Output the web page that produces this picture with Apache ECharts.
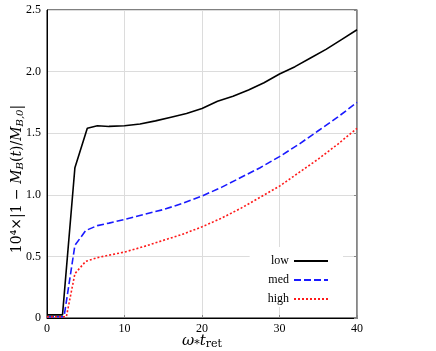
<!DOCTYPE html>
<html>
<head>
<meta charset="utf-8">
<script src="https://cdn.jsdelivr.net/npm/echarts@6/dist/echarts.min.js"></script>
<style>
  html, body { margin: 0; padding: 0; background: #fff; }
  #chart { width: 436px; height: 351px; }
</style>
</head>
<body>
<div id="chart"></div>
<script>
// time axis (omega_* t_ret) and |1 - M_B(t)/M_B,0| x 1e4
const tLow = [0, 2.0, 3.6, 5.2, 6.5, 8, 10, 12, 14, 16, 18, 20, 22, 24, 26, 28, 30, 32, 34, 36, 38, 40];
const low  = [0.025, 0.025, 1.22, 1.54, 1.56, 1.555, 1.56, 1.575, 1.60, 1.63, 1.66, 1.70, 1.76, 1.80, 1.85, 1.91, 1.98, 2.04, 2.11, 2.18, 2.26, 2.34];

const tMed = [0, 2.2, 3.6, 5.0, 6.5, 8, 10, 12.5, 15, 17.5, 20, 22.5, 25, 27.5, 30, 32.5, 35, 37.5, 40];
const med  = [0.01, 0.01, 0.59, 0.71, 0.75, 0.77, 0.80, 0.84, 0.88, 0.93, 0.99, 1.06, 1.14, 1.22, 1.31, 1.41, 1.52, 1.63, 1.75];

const tHigh = [0, 2.5, 3.6, 5.0, 6.5, 8, 10, 12.5, 15, 17.5, 20, 22.5, 25, 27.5, 30, 32.5, 35, 37.5, 40];
const high  = [0.01, 0.01, 0.36, 0.46, 0.49, 0.51, 0.535, 0.58, 0.63, 0.68, 0.74, 0.81, 0.89, 0.98, 1.07, 1.18, 1.29, 1.41, 1.54];

const xTicks = [0, 10, 20, 30, 40];
const yTicks = [0, 0.5, 1.0, 1.5, 2.0, 2.5];

const pairs = (xs, ys) => xs.map((x, i) => [x, ys[i]]);
const serif = 'DejaVu Serif';

const chart = echarts.init(document.getElementById('chart'));
chart.setOption({
  animation: false,
  textStyle: { fontFamily: serif },
  grid: {
    left: 47, right: 79, top: 10, bottom: 33,
    outerBoundsMode: 'none', containLabel: false,
    show: true, borderColor: '#000', borderWidth: 1
  },
  legend: {
    right: 93, bottom: 44,
    orient: 'vertical',
    align: 'right',
    itemWidth: 34, itemHeight: 10, itemGap: 7,
    backgroundColor: '#fff',
    padding: [8, 14, 2, 18],
    itemStyle: { opacity: 0 },
    textStyle: { fontFamily: 'Liberation Serif', fontSize: 12, color: '#000' },
    data: ['low', 'med', 'high']
  },
  xAxis: {
    type: 'value', min: 0, max: 40, interval: 10,
    name: '{i|ω}{s|*}{i|t}{s|ret}',
    nameLocation: 'middle', nameGap: 14, nameMoveOverlap: false,
    nameTextStyle: {
      rich: {
        i: { fontFamily: serif, fontStyle: 'italic', fontSize: 15, color: '#000' },
        s: { fontFamily: serif, fontSize: 11, color: '#000', verticalAlign: 'bottom', padding: [7, 0, 0, 0] }
      }
    },
    axisLine: { lineStyle: { color: '#000' } },
    axisTick: { inside: true, length: 3, lineStyle: { color: '#888' } },
    axisLabel: { color: '#000', fontSize: 12, margin: 5, fontFamily: 'Liberation Serif',
      formatter: v => xTicks.includes(v) ? String(v) : '' },
    splitLine: { show: true, lineStyle: { color: '#dcdcdc' } }
  },
  yAxis: [{
    type: 'value', min: 0, max: 2.5, interval: 0.5,
    name: '{n|10⁴×|1 − }{i|M}{s|B}{n|(}{i|t}{n|)/}{i|M}{s|B,0}{n||}',
    nameLocation: 'middle', nameGap: 22, nameRotate: 90, nameMoveOverlap: false,
    nameTextStyle: {
      padding: [0, 30, 0, 0],
      rich: {
        n: { fontFamily: serif, fontSize: 14, color: '#000' },
        i: { fontFamily: serif, fontStyle: 'italic', fontSize: 14, color: '#000' },
        s: { fontFamily: serif, fontStyle: 'italic', fontSize: 10, color: '#000', verticalAlign: 'bottom', padding: [6, 0, 0, 0] }
      }
    },
    axisLine: { show: true, lineStyle: { color: '#000' } },
    axisTick: { show: false },
    axisLabel: { color: '#000', fontSize: 12, margin: 6, fontFamily: 'Liberation Serif',
      formatter: v => yTicks.includes(v) ? (v === 0 ? '0' : v.toFixed(1)) : '' },
    splitLine: { show: true, lineStyle: { color: '#dcdcdc' } }
  }, {
    type: 'value', min: 0, max: 2.5, interval: 0.5, position: 'right',
    axisLine: { show: true, lineStyle: { color: '#888', width: 1.5 } },
    axisTick: { show: true, inside: true, length: 3, lineStyle: { color: '#888' } },
    axisLabel: { show: false },
    splitLine: { show: false }
  }],
  series: [
    { name: 'low', type: 'line', symbol: 'none', data: pairs(tLow, low),
      lineStyle: { color: '#000', width: 1.6 }, itemStyle: { color: '#000' } },
    { name: 'med', type: 'line', symbol: 'none', data: pairs(tMed, med),
      lineStyle: { color: '#1a1aff', width: 1.6, type: [7, 3] }, itemStyle: { color: '#1a1aff' } },
    { name: 'high', type: 'line', symbol: 'none', data: pairs(tHigh, high),
      lineStyle: { color: '#ff1a1a', width: 1.6, type: [2, 2] }, itemStyle: { color: '#ff1a1a' } }
  ]
});
</script>
</body>
</html>
